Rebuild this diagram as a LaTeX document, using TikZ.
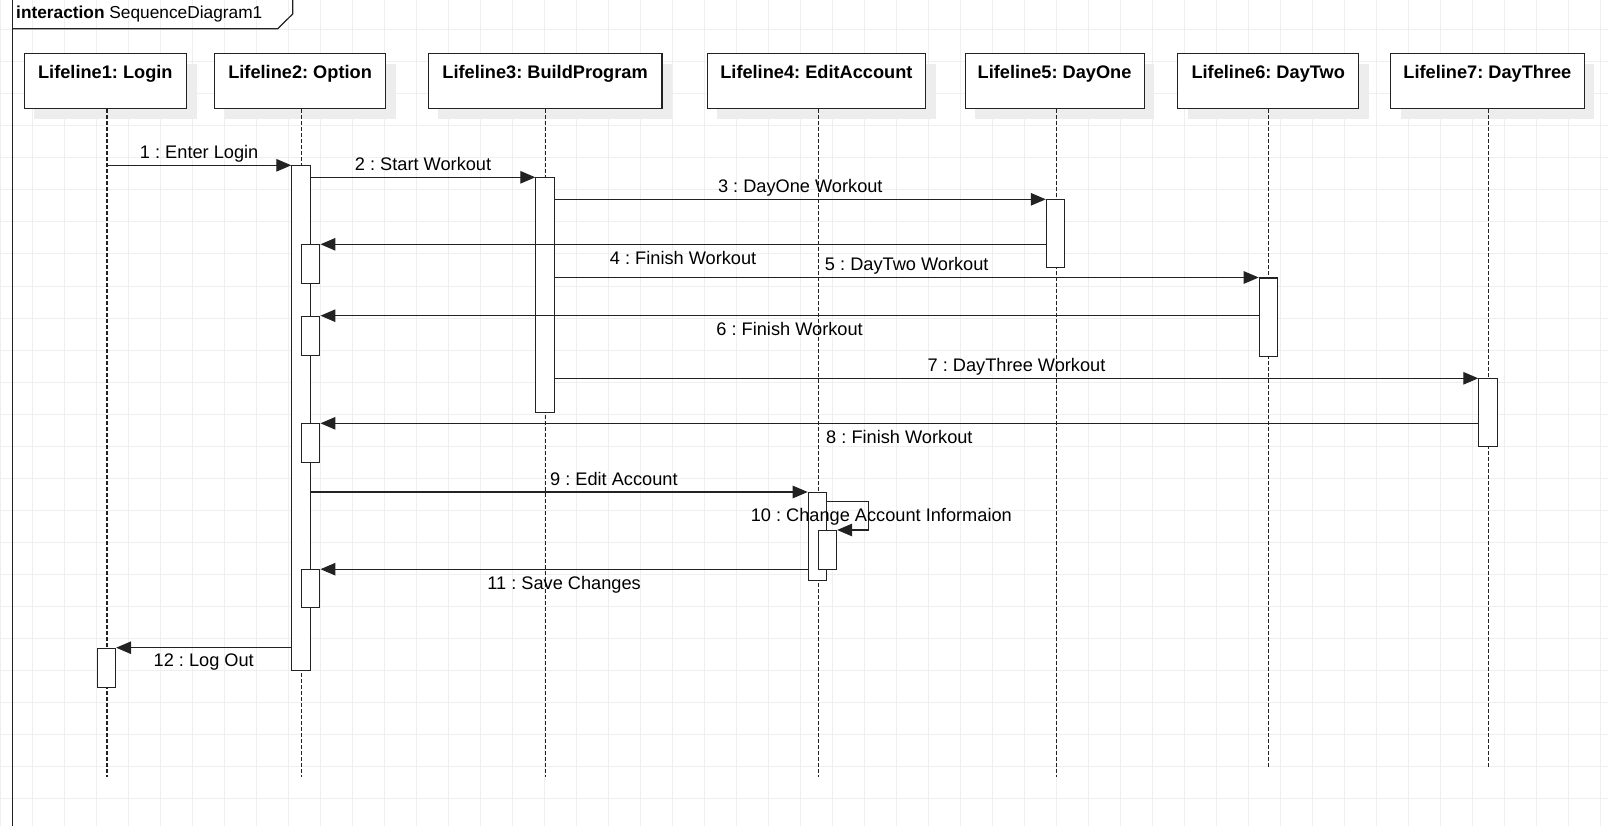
\documentclass[tikz,border=0pt]{standalone}
\usepackage{fontspec}
\setmainfont{Liberation Sans}
\usetikzlibrary{arrows.meta,shadows}
\frenchspacing

\definecolor{inkc}{HTML}{222222}
\definecolor{gridc}{HTML}{EFEFEF}
\definecolor{shadowc}{HTML}{EDEDED}

\tikzset{
  gridline/.style={draw=gridc, line width=1pt},
  framec/.style={draw=inkc, line width=1.2pt},
  hdr/.style={draw=inkc, fill=white, line width=1.15pt, inner sep=0pt,
    anchor=north west, minimum height=55pt,
    drop shadow={shadow xshift=10pt, shadow yshift=-10pt, fill=shadowc, opacity=1}},
  hdrtxt/.style={font=\fontsize{18.2}{22}\selectfont\bfseries, anchor=base,
    inner sep=0pt, text=black},
  lifeline/.style={draw=inkc, line width=1.3pt, dash pattern=on 3.5pt off 2.5pt},
  actbar/.style={draw=inkc, fill=white, line width=1.15pt, inner sep=0pt,
    anchor=north west, minimum width=18.3pt},
  msg/.style={draw=inkc, line width=1.15pt, -{Triangle[length=15pt,width=12.5pt]}},
  selfmsg/.style={draw=inkc, line width=1.15pt, -{Triangle[length=15pt,width=12.5pt]}},
  lbl/.style={font=\fontsize{18.2}{22}\selectfont, text=black, inner sep=0pt, anchor=base},
  above msg/.style={lbl, midway, yshift=7pt},
  below msg/.style={lbl, midway, yshift=-20pt},
}

\begin{document}
\begin{tikzpicture}[x=1pt,y=-1pt]
  \useasboundingbox (0,0) rectangle (1608,826);
  \clip (0,0) rectangle (1608,826);
  \fill[white] (0,0) rectangle (1608,826);

  % background grid
  \foreach \gx in {0.5,32.5,...,1608} \draw[gridline] (\gx,0) -- (\gx,826);
  \foreach \gy in {30,62,...,826} \draw[gridline] (0,\gy) -- (1608,\gy);

  % interaction frame and its name tag
  \draw[framec] (12.7,830) -- (12.7,-2);
  \draw[framec] (12.7,28.7) -- (277.7,28.7) -- (292.7,14) -- (292.7,-2);
  \node[anchor=base west, inner sep=0pt, font=\fontsize{17.3}{20}\selectfont] (title)
    at (16,19) {\textbf{interaction} SequenceDiagram1};

  % lifeline heads
  \node[hdr, minimum width=162.5pt] (h1) at (23.5,53.3) {};
  \node[hdr, minimum width=171pt]   (h2) at (214,53.3) {};
  \node[hdr, minimum width=233.8pt] (h3) at (427.6,53.3) {};
  \node[hdr, minimum width=218.4pt] (h4) at (706.6,53.3) {};
  \node[hdr, minimum width=179pt]   (h5) at (964.5,53.3) {};
  \node[hdr, minimum width=180.7pt] (h6) at (1177.3,53.3) {};
  \node[hdr, minimum width=193.6pt] (h7) at (1390,53.3) {};

  \node[hdrtxt] (t1) at ([yshift=-25.7pt]h1.north) {Lifeline1: Login};
  \node[hdrtxt] (t2) at ([yshift=-25.7pt]h2.north) {Lifeline2: Option};
  \node[hdrtxt] (t3) at ([yshift=-25.7pt]h3.north) {Lifeline3: BuildProgram};
  \node[hdrtxt] (t4) at ([yshift=-25.7pt]h4.north) {Lifeline4: EditAccount};
  \node[hdrtxt] (t5) at ([yshift=-25.7pt]h5.north) {Lifeline5: DayOne};
  \node[hdrtxt] (t6) at ([yshift=-25.7pt]h6.north) {Lifeline6: DayTwo};
  \node[hdrtxt] (t7) at ([yshift=-25.7pt]h7.north) {Lifeline7: DayThree};

  % lifeline ends
  \coordinate (l1) at (107,777);
  \coordinate (l2) at (301.6,777);
  \coordinate (l3) at (545.4,777);
  \coordinate (l4) at (818.5,777);
  \coordinate (l5) at (1056.3,777);
  \coordinate (l6) at (1268.8,769);
  \coordinate (l7) at (1488.4,769);

  \foreach \i in {1,...,7} \draw[lifeline] (h\i.south -| l\i) -- (l\i);

  % execution specifications
  \node[actbar, minimum height=504.7pt] (a2) at (291.3,165.3) {};
  \node[actbar, minimum height=235pt]   (a3) at (535.3,177.3) {};
  \node[actbar, minimum height=67.4pt]  (a5) at (1045.8,199.3) {};
  \node[actbar, minimum height=78pt]    (a6) at (1258.7,277.5) {};
  \node[actbar, minimum height=67.7pt]  (a7) at (1478.3,378.3) {};
  \node[actbar, minimum height=88pt]    (a4) at (807.7,492) {};
  \node[actbar, minimum height=39pt]    (n4) at (817.7,530) {};
  \node[actbar, minimum height=39pt]    (a1) at (96.7,647.7) {};

  \node[actbar, minimum height=39pt]    (n2a) at (301,244.3) {};
  \node[actbar, minimum height=39.3pt]  (n2b) at (301,315.7) {};
  \node[actbar, minimum height=39pt]    (n2c) at (301,423.3) {};
  \node[actbar, minimum height=38pt]    (n2d) at (301,569.2) {};

  % messages
  \draw[msg] (l1 |- a2.north west) -- node[above msg] (m1) {1 : Enter Login} (a2.north west);
  \draw[msg] (a2.east |- a3.north west) -- node[above msg] (m2) {2 : Start Workout} (a3.north west);
  \draw[msg] (a3.east |- a5.north west) -- node[above msg] (m3) {3 : DayOne Workout} (a5.north west);
  \draw[msg] (a5.west |- n2a.north east) -- node[below msg] (m4) {4 : Finish Workout} (n2a.north east);
  \draw[msg] (a3.east |- a6.north west) -- node[above msg] (m5) {5 : DayTwo Workout} (a6.north west);
  \draw[msg] (a6.west |- n2b.north east) -- node[below msg] (m6) {6 : Finish Workout} (n2b.north east);
  \draw[msg] (a3.east |- a7.north west) -- node[above msg] (m7) {7 : DayThree Workout} (a7.north west);
  \draw[msg] (a7.west |- n2c.north east) -- node[below msg] (m8) {8 : Finish Workout} (n2c.north east);
  \draw[msg] (a2.east |- a4.north west) -- node[above msg, pos=0.61] (m9) {9 : Edit Account} (a4.north west);

  % self call on EditAccount
  \coordinate (s10) at (868.3,501.7);
  \draw[selfmsg] (a4.east |- s10) -- (s10) |- (n4.north east);
  \node[lbl] (m10) at (881.3,521) {10 : Change Account Informaion};

  \draw[msg] (a4.west |- n2d.north east) -- node[below msg] (m11) {11 : Save Changes} (n2d.north east);
  \draw[msg] (a2.west |- a1.north east) -- node[below msg, yshift=1pt] (m12) {12 : Log Out} (a1.north east);
\end{tikzpicture}
\end{document}
